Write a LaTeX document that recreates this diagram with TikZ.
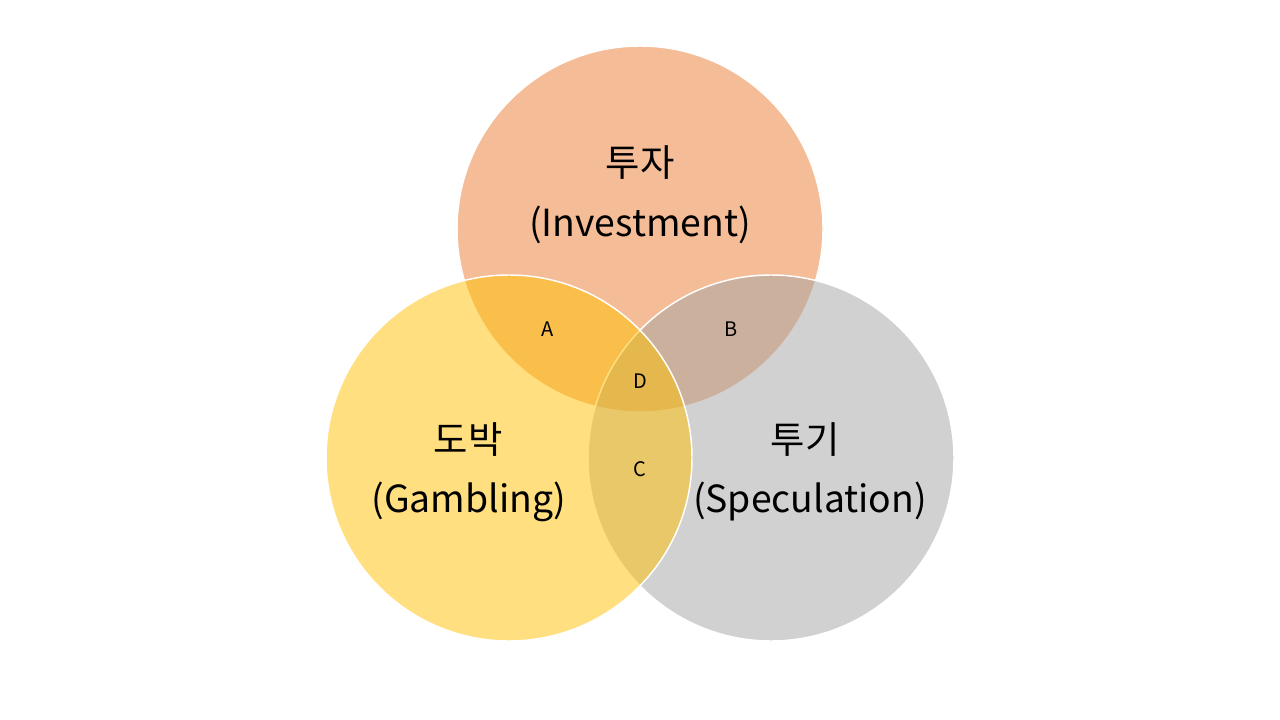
\documentclass[tikz,border=0pt]{standalone}
\usepackage{fontspec}
\setmainfont{Noto Sans CJK KR}
\definecolor{invorange}{HTML}{ED7D31}
\definecolor{gamgold}{HTML}{FFC000}
\definecolor{specgray}{HTML}{A5A5A5}
\tikzset{
  venn/.style={draw=white, line width=1.1pt, fill opacity=0.5, draw opacity=1},
  bigtext/.style={inner sep=0pt, font=\fontsize{28}{34}\selectfont, text=black},
  smalltext/.style={inner sep=0pt, font=\fontsize{15}{18}\selectfont, text=black}
}
\begin{document}
\begin{tikzpicture}[x=0.75pt, y=-0.75pt]
  \useasboundingbox (0,0) rectangle (1280,720);
  \fill[white] (0,0) rectangle (1280,720);
  % circles: orange bottom, gray middle, gold top
  \coordinate (ctop) at (640,229);
  \coordinate (cleft) at (509,458);
  \coordinate (cright) at (771,458);
  \draw[venn, fill=invorange] (ctop) circle[radius=183];
  \draw[venn, fill=specgray] (cright) circle[radius=183];
  \draw[venn, fill=gamgold] (cleft) circle[radius=183];
  % labels
  \node[bigtext] (invk) at (640,163) {투자};
  \node[bigtext] (inve) at (640,225) {(Investment)};
  \node[bigtext] (gamk) at (468,440) {도박};
  \node[bigtext] (game) at (469,502) {(Gambling)};
  \node[bigtext] (speck) at (805,440) {투기};
  \node[bigtext] (spece) at (810,502) {(Speculation)};
  \node[smalltext] (a) at (548,329) {A};
  \node[smalltext] (b) at (731,329) {B};
  \node[smalltext] (d) at (640,381) {D};
  \node[smalltext] (c) at (640,469) {C};
\end{tikzpicture}
\end{document}
